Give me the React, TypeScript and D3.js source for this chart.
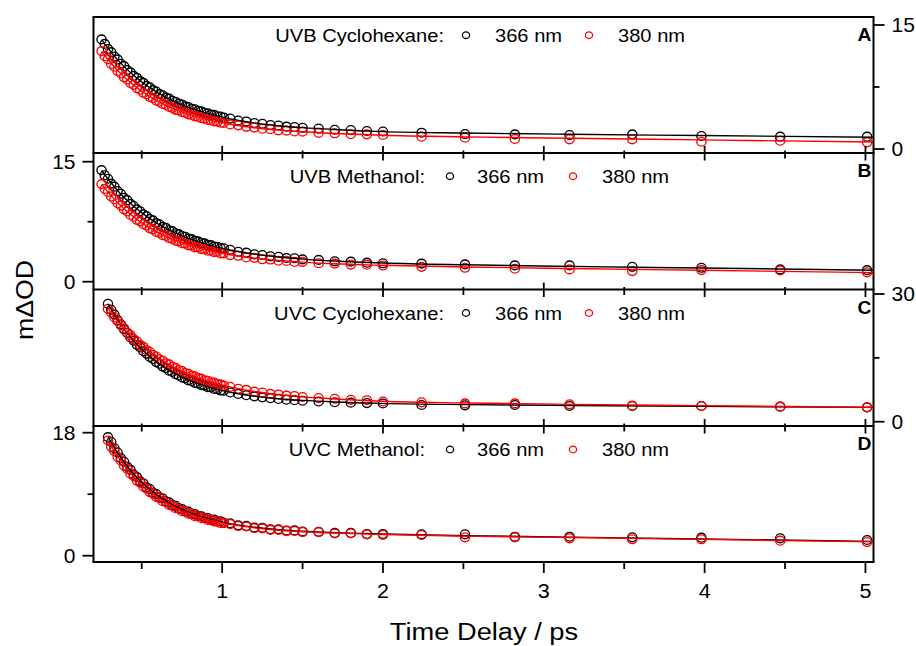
import React from 'react';
import * as d3 from 'd3';

// ---------- data ----------
const timesAB = [0.25,0.27,0.29,0.31,0.33,0.35,0.37,0.39,0.41,0.43,0.45,0.47,0.49,0.51,0.53,0.55,0.57,0.59,0.61,0.63,0.65,0.67,0.69,0.71,0.73,0.75,0.77,0.79,0.81,0.83,0.85,0.87,0.89,0.91,0.93,0.95,0.97,0.99,1.01,1.05,1.10,1.15,1.20,1.25,1.30,1.35,1.40,1.45,1.50,1.6,1.7,1.8,1.9,2.0,2.24,2.51,2.82,3.16,3.55,3.98,4.47,5.01];
const timesCD = [0.29,0.31,0.33,0.35,0.37,0.39,0.41,0.43,0.45,0.47,0.49,0.51,0.53,0.55,0.57,0.59,0.61,0.63,0.65,0.67,0.69,0.71,0.73,0.75,0.77,0.79,0.81,0.83,0.85,0.87,0.89,0.91,0.93,0.95,0.97,0.99,1.01,1.05,1.10,1.15,1.20,1.25,1.30,1.35,1.40,1.45,1.50,1.6,1.7,1.8,1.9,2.0,2.24,2.51,2.82,3.16,3.55,3.98,4.47,5.01];
const fitTimesAB = [0.25,0.35,0.45,0.55,0.65,0.75,0.85,0.95,1.05,1.2,1.35,1.5,1.7,2.0,2.51,3.16,3.98,5.05];
const fitTimesCD = [0.29,0.35,0.45,0.55,0.65,0.75,0.85,0.95,1.05,1.2,1.35,1.5,1.7,2.0,2.51,3.16,3.98,5.05];

// UVB Cyclohexane (panel A)
const uvbCyc366 = [13.26,12.71,12.10,11.72,11.18,10.84,10.31,10.02,9.55,9.27,8.84,8.60,8.21,7.99,7.63,7.45,7.12,6.95,6.64,6.49,6.21,6.09,5.83,5.71,5.49,5.38,5.15,5.08,4.87,4.80,4.61,4.55,4.38,4.32,4.16,4.12,3.96,3.93,3.79,3.68,3.45,3.33,3.14,3.05,2.90,2.84,2.70,2.66,2.56,2.47,2.33,2.29,2.18,2.12,1.97,1.81,1.77,1.69,1.77,1.57,1.49,1.49];
const uvbCyc380 = [11.84,11.22,10.86,10.29,9.95,9.43,9.14,8.67,8.41,7.98,7.76,7.36,7.17,6.80,6.63,6.31,6.15,5.85,5.72,5.45,5.33,5.08,4.98,4.74,4.67,4.45,4.38,4.19,4.13,3.94,3.89,3.72,3.68,3.52,3.48,3.34,3.31,3.18,3.16,2.97,2.86,2.68,2.59,2.45,2.39,2.26,2.22,2.12,2.10,1.95,1.90,1.79,1.77,1.70,1.49,1.37,1.21,1.17,1.17,0.88,1.00,0.81];
const uvbCyc366Fit = [13.20,10.78,8.89,7.41,6.25,5.35,4.64,4.09,3.65,3.16,2.82,2.58,2.35,2.10,1.93,1.78,1.63,1.43];
const uvbCyc380Fit = [11.80,9.49,7.72,6.35,5.30,4.48,3.86,3.37,3.00,2.57,2.28,2.08,1.88,1.66,1.47,1.30,1.10,0.84];

// UVB Methanol (panel B)
const uvbMeth366 = [13.95,13.30,12.87,12.26,11.88,11.33,10.99,10.49,10.19,9.73,9.46,9.04,8.80,8.41,8.20,7.84,7.66,7.32,7.17,6.85,6.72,6.43,6.32,6.05,5.95,5.71,5.62,5.39,5.32,5.10,5.04,4.84,4.79,4.60,4.57,4.39,4.36,4.19,4.17,3.99,3.74,3.63,3.42,3.34,3.17,3.11,2.96,2.93,2.79,2.72,2.55,2.51,2.38,2.30,2.26,2.16,2.04,2.04,1.86,1.74,1.54,1.45];
const uvbMeth380 = [12.20,11.60,11.21,10.66,10.31,9.81,9.51,9.04,8.78,8.35,8.13,7.73,7.54,7.18,7.01,6.67,6.54,6.22,6.11,5.81,5.71,5.45,5.36,5.12,5.05,4.82,4.76,4.55,4.51,4.30,4.28,4.08,4.07,3.88,3.88,3.70,3.71,3.53,3.55,3.33,3.24,3.03,2.98,2.80,2.77,2.62,2.60,2.47,2.48,2.31,2.26,2.14,2.13,2.02,1.86,1.74,1.62,1.54,1.33,1.45,1.41,1.17];
const uvbMeth366Fit = [13.90,11.38,9.42,7.88,6.68,5.74,5.00,4.42,3.96,3.45,3.08,2.82,2.58,2.34,2.11,1.91,1.71,1.44];
const uvbMeth380Fit = [12.16,9.86,8.09,6.72,5.67,4.87,4.24,3.75,3.37,2.95,2.66,2.45,2.24,2.05,1.84,1.65,1.43,1.14];

// UVC Cyclohexane (panel C)
const uvcCyc366 = [27.70,26.28,25.16,23.85,22.88,21.69,20.84,19.78,19.05,18.06,17.44,16.55,16.01,15.20,14.74,14.01,13.61,12.94,12.60,11.99,11.70,11.15,10.90,10.39,10.20,9.72,9.57,9.13,9.00,8.60,8.49,8.13,8.05,7.70,7.65,7.32,7.30,6.86,6.52,6.21,5.95,5.72,5.51,5.35,5.18,5.06,4.93,4.74,4.58,4.47,4.38,4.28,3.92,3.85,3.92,3.69,3.69,3.69,3.53,3.37];
const uvcCyc380 = [26.52,25.63,24.48,23.68,22.61,21.92,20.95,20.33,19.42,18.88,18.05,17.57,16.81,16.38,15.68,15.30,14.66,14.33,13.73,13.45,12.89,12.64,12.13,11.92,11.44,11.25,10.81,10.66,10.24,10.12,9.72,9.63,9.26,9.18,8.84,8.77,8.46,8.21,7.72,7.46,7.06,6.86,6.54,6.40,6.12,6.02,5.80,5.55,5.38,5.14,5.05,4.75,4.55,4.30,4.30,4.08,3.77,3.69,3.53,3.37];
const uvcCyc366Fit = [27.66,23.93,18.99,15.29,12.54,10.48,8.94,7.78,6.92,6.00,5.40,5.00,4.64,4.30,4.02,3.82,3.62,3.36];
const uvcCyc380Fit = [26.58,23.59,19.50,16.30,13.80,11.84,10.31,9.11,8.17,7.11,6.37,5.84,5.35,4.80,4.40,4.08,3.77,3.38];

// UVC Methanol (panel D)
const uvcMeth366 = [17.35,16.64,15.71,15.10,14.27,13.75,12.99,12.56,11.87,11.50,10.88,10.57,10.00,9.75,9.23,9.02,8.54,8.37,7.94,7.80,7.40,7.30,6.92,6.84,6.51,6.45,6.13,6.10,5.80,5.78,5.51,5.51,5.24,5.27,5.01,5.04,4.81,4.74,4.44,4.36,4.11,4.08,3.87,3.86,3.68,3.70,3.53,3.50,3.33,3.33,3.18,3.18,3.13,3.13,2.78,2.78,2.69,2.64,2.54,2.30];
const uvcMeth380 = [16.86,15.93,15.31,14.45,13.93,13.16,12.70,12.01,11.63,10.99,10.68,10.10,9.83,9.31,9.08,8.61,8.43,7.98,7.85,7.44,7.32,6.95,6.87,6.52,6.46,6.14,6.10,5.80,5.78,5.49,5.50,5.23,5.25,5.00,5.03,4.78,4.83,4.63,4.34,4.27,4.02,4.00,3.78,3.78,3.60,3.62,3.46,3.44,3.25,3.28,3.11,3.05,3.03,2.69,2.69,2.54,2.40,2.40,2.20,2.00];
const uvcMeth366Fit = [17.40,15.03,11.94,9.68,8.01,6.77,5.87,5.20,4.69,4.16,3.81,3.58,3.37,3.17,2.93,2.72,2.45,2.09];
const uvcMeth380Fit = [16.80,14.52,11.56,9.38,7.78,6.59,5.71,5.07,4.58,4.07,3.73,3.51,3.30,3.10,2.87,2.66,2.39,2.03];

const panelLetters = ['A', 'B', 'C', 'D'];
const panelTitles = ['UVB Cyclohexane:', 'UVB Methanol:', 'UVC Cyclohexane:', 'UVC Methanol:'];
const waveLabels = ['366 nm', '380 nm'];
const xMajorTicks = [1, 2, 3, 4, 5];
const xMinorTicks = [0.5, 1.5, 2.5, 3.5, 4.5];
const xTitle = 'Time Delay / ps';
const yTitle = 'm\u0394OD';

// ---------- layout ----------
const W = 916, H = 646;
const X0 = 93.5, X1 = 873.5;
const FONT = "Arial, 'Liberation Sans', Helvetica, sans-serif";
const BLACK = '#000000';
const RED = '#ff0000';

const x = d3.scaleLinear().domain([0.2, 5.05]).range([X0, X1]);

const wideLegend = { labelEnd: 444, c1: 466, t1: 495, c2: 589, t2: 618 };
const narrowLegend = { labelEnd: 425, c1: 450, t1: 477, c2: 573, t2: 602 };

const panels = [
  { top: 17, bottom: 153, y: d3.scaleLinear().domain([0, 15]).range([149, 25]), side: 'right', major: [0, 15], minor: [7.5],
    times: timesAB, fitTimes: fitTimesAB, s1: uvbCyc366, s2: uvbCyc380, f1: uvbCyc366Fit, f2: uvbCyc380Fit, legendY: 41.7, legend: wideLegend },
  { top: 153, bottom: 289.5, y: d3.scaleLinear().domain([0, 15]).range([281.7, 161.7]), side: 'left', major: [0, 15], minor: [7.5],
    times: timesAB, fitTimes: fitTimesAB, s1: uvbMeth366, s2: uvbMeth380, f1: uvbMeth366Fit, f2: uvbMeth380Fit, legendY: 182.7, legend: narrowLegend },
  { top: 289.5, bottom: 426, y: d3.scaleLinear().domain([0, 30]).range([421.7, 294]), side: 'right', major: [0, 30], minor: [15],
    times: timesCD, fitTimes: fitTimesCD, s1: uvcCyc366, s2: uvcCyc380, f1: uvcCyc366Fit, f2: uvcCyc380Fit, legendY: 319.5, legend: wideLegend },
  { top: 426, bottom: 562, y: d3.scaleLinear().domain([0, 18]).range([555.7, 432.7]), side: 'left', major: [0, 18], minor: [9],
    times: timesCD, fitTimes: fitTimesCD, s1: uvcMeth366, s2: uvcMeth380, f1: uvcMeth366Fit, f2: uvcMeth380Fit, legendY: 456, legend: narrowLegend },
];

function SText(props: { x: number; y: number; size: number; sx?: number; anchor?: string; weight?: string; children: any }) {
  const { x: tx, y: ty, size, sx = 1, anchor = 'start', weight = 'normal', children } = props;
  return (
    <text transform={`translate(${tx},${ty}) scale(${sx},1)`} textAnchor={anchor as any} fontSize={size}
      fontFamily={FONT} fontWeight={weight} fill="#000">{children}</text>
  );
}

function Panel({ p, i }: { p: any; i: number }) {
  const pts = (times: number[], vals: number[]) =>
    vals.slice(0, Math.min(times.length, vals.length)).map((v, k) => [x(times[k]), p.y(v)] as [number, number]);
  const line = d3.line<[number, number]>().curve(d3.curveMonotoneX);
  const d1 = pts(p.times, p.s1);
  const d2 = pts(p.times, p.s2);
  const l1 = line(pts(p.fitTimes, p.f1)) || '';
  const l2 = line(pts(p.fitTimes, p.f2)) || '';
  const L = p.legend;
  const ax = p.side === 'right' ? X1 : X0;
  const dir = p.side === 'right' ? 1 : -1;
  return (
    <g>
      {d1.map((c, k) => <ellipse key={'a' + k} cx={c[0]} cy={c[1]} rx={4.6} ry={4.4} fill="none" stroke={BLACK} strokeWidth={1.35} />)}
      {d2.map((c, k) => <ellipse key={'b' + k} cx={c[0]} cy={c[1]} rx={4.6} ry={4.4} fill="none" stroke={RED} strokeWidth={1.35} />)}
      <path d={l1} fill="none" stroke={BLACK} strokeWidth={1.4} />
      <path d={l2} fill="none" stroke={RED} strokeWidth={1.4} />
      {/* legend */}
      <SText x={L.labelEnd} y={p.legendY} size={17.5} sx={1.15} anchor="end">{panelTitles[i]}</SText>
      <ellipse cx={L.c1} cy={p.legendY - 6.5} rx={3.6} ry={3.3} fill="none" stroke={BLACK} strokeWidth={1.3} />
      <SText x={L.t1} y={p.legendY} size={17.5} sx={1.15}>{waveLabels[0]}</SText>
      <ellipse cx={L.c2} cy={p.legendY - 6.5} rx={3.6} ry={3.3} fill="none" stroke={RED} strokeWidth={1.3} />
      <SText x={L.t2} y={p.legendY} size={17.5} sx={1.15}>{waveLabels[1]}</SText>
      {/* panel letter */}
      <SText x={864.5} y={p.top + 24} size={17.5} sx={1.1} anchor="middle" weight="bold">{panelLetters[i]}</SText>
      {/* y axis ticks */}
      {p.major.map((v: number) => (
        <g key={'ym' + v}>
          <line x1={ax} x2={ax + dir * 11} y1={p.y(v)} y2={p.y(v)} stroke="#000" strokeWidth={1.8} />
          <SText x={p.side === 'right' ? X1 + 18 : X0 - 18} y={p.y(v) + 7.2} size={20} sx={1.05}
            anchor={p.side === 'right' ? 'start' : 'end'}>{String(v)}</SText>
        </g>
      ))}
      {p.minor.map((v: number) => (
        <line key={'yn' + v} x1={ax} x2={ax + dir * 6} y1={p.y(v)} y2={p.y(v)} stroke="#000" strokeWidth={1.8} />
      ))}
    </g>
  );
}

export default function App() {
  const boundaries = [153, 289.5, 426];
  const bottom = 562;
  return (
    <svg width={W} height={H} viewBox={`0 0 ${W} ${H}`} style={{ position: 'absolute', left: 0, top: 0, background: '#fff' }}>
      <rect x={0} y={0} width={W} height={H} fill="#fff" />
      {panels.map((p, i) => <Panel key={i} p={p} i={i} />)}
      {/* frame */}
      <line x1={X0} x2={X0} y1={17} y2={bottom} stroke="#000" strokeWidth={2} />
      <line x1={X1} x2={X1} y1={17} y2={bottom} stroke="#000" strokeWidth={2} />
      {[17, ...boundaries, bottom].map((b) => (
        <line key={'h' + b} x1={X0 - 1} x2={X1 + 1} y1={b} y2={b} stroke="#000" strokeWidth={2} />
      ))}
      {/* internal x ticks */}
      {boundaries.map((b) => (
        <g key={'bt' + b}>
          {xMajorTicks.map((t) => <line key={'M' + t} x1={x(t)} x2={x(t)} y1={b - 7} y2={b + 7.5} stroke="#000" strokeWidth={1.8} />)}
          {xMinorTicks.map((t) => <line key={'m' + t} x1={x(t)} x2={x(t)} y1={b - 2.5} y2={b + 5.5} stroke="#000" strokeWidth={1.8} />)}
        </g>
      ))}
      {/* bottom x axis */}
      {xMajorTicks.map((t) => (
        <g key={'xb' + t}>
          <line x1={x(t)} x2={x(t)} y1={bottom} y2={bottom + 11} stroke="#000" strokeWidth={1.8} />
          <SText x={x(t)} y={598.3} size={20.5} sx={1.05} anchor="middle">{String(t)}</SText>
        </g>
      ))}
      {xMinorTicks.map((t) => (
        <line key={'xm' + t} x1={x(t)} x2={x(t)} y1={bottom} y2={bottom + 7} stroke="#000" strokeWidth={1.8} />
      ))}
      <SText x={484} y={640} size={23.5} sx={1.16} anchor="middle">{xTitle}</SText>
      <text transform="translate(33,300) rotate(-90)" textAnchor="middle" fontSize={24} fontFamily={FONT}
        textLength={80} lengthAdjust="spacingAndGlyphs" fill="#000">{yTitle}</text>
    </svg>
  );
}
